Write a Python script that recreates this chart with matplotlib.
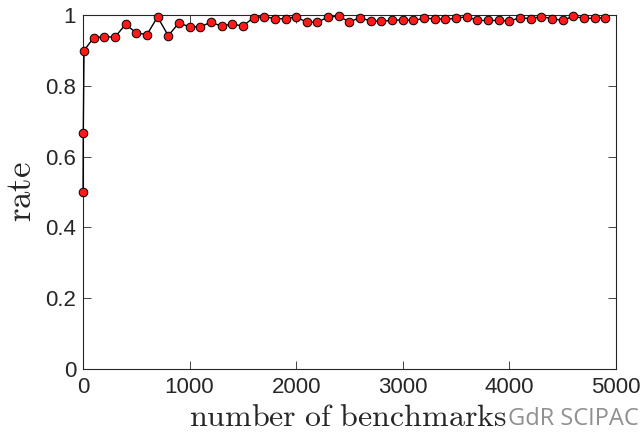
import matplotlib
matplotlib.use("Agg")
import matplotlib.pyplot as plt

# number of benchmarks vs success rate
n_bench = [1, 3, 10] + list(range(100, 5000, 100))
rate = [0.5, 0.667, 0.9,
        0.936, 0.939, 0.938, 0.974, 0.950, 0.945, 0.995, 0.942, 0.978, 0.967,
        0.967, 0.980, 0.969, 0.975, 0.969, 0.993, 0.996, 0.990, 0.990, 0.995,
        0.980, 0.980, 0.995, 0.997, 0.981, 0.993, 0.983, 0.983, 0.985, 0.987,
        0.985, 0.991, 0.990, 0.988, 0.991, 0.996, 0.985, 0.985, 0.985, 0.983,
        0.993, 0.990, 0.996, 0.990, 0.985, 0.997, 0.991, 0.991, 0.993]

plt.rcParams['mathtext.fontset'] = 'cm'
plt.rcParams['font.family'] = ['Liberation Sans', 'DejaVu Sans']

fig = plt.figure(figsize=(6.43, 4.33), dpi=100)
ax = fig.add_axes([0.129, 0.148, 0.829, 0.817])

ax.plot(n_bench, rate, color='black', linewidth=1.0, marker='o',
        markersize=6.2, markerfacecolor='#ff1a1a', markeredgecolor='black',
        markeredgewidth=0.7, clip_on=False, zorder=3)

ax.set_xlim(0, 5000)
ax.set_ylim(0, 1)
ax.set_xticks([0, 1000, 2000, 3000, 4000, 5000])
ax.set_yticks([0, 0.2, 0.4, 0.6, 0.8, 1])
ax.set_yticklabels(['0', '0.2', '0.4', '0.6', '0.8', '1'])
ax.tick_params(direction='in', top=True, right=True, labelsize=16,
               length=5.5, width=0.6, colors='#262626')
ax.tick_params(axis='x', pad=6)
ax.tick_params(axis='y', pad=5)
for s in ax.spines.values():
    s.set_linewidth(0.8)
    s.set_color('#262626')

# axis labels placed by hand (serif, like the original)
fig.text(0.541, 0.016, r'$\mathrm{number\ of\ benchmarks}$', fontsize=23,
         ha='center', va='baseline', color='#262626')
fig.text(0.033, 0.558, r'$\mathrm{rate}$', fontsize=25, rotation=90,
         ha='center', va='center', color='#262626')

fig.text(0.79, 0.018, 'GdR SCIPAC', fontsize=17, color='#909090',
         va='baseline', family=['Open Sans', 'DejaVu Sans'])

fig.savefig('out.png', dpi=100)
